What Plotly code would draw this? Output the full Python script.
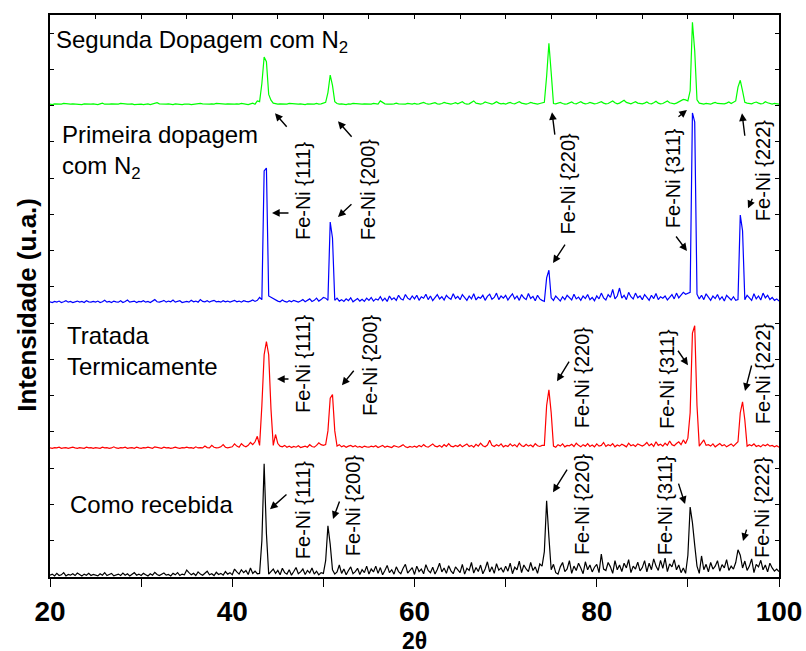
import numpy as np
import plotly.graph_objects as go

# 2-theta sampling grid (degrees)
two_theta = np.linspace(20, 100, 321)  # step 0.25 deg

# Intensities (a.u.) above each curve's own baseline
segunda_dopagem = [
    3,2,4,3,2,3,5,4,2,3,4,3,2,3,2,4,3,2,3,4,
    3,2,4,6,3,2,3,4,3,2,3,5,4,2,3,3,4,2,3,4,
    3,2,3,4,2,3,5,7,4,3,2,3,4,3,2,4,3,3,2,3,
    4,3,2,3,4,3,5,4,3,2,3,4,3,5,4,3,2,3,4,3,
    2,3,4,3,5,4,3,2,4,6,3,12,10,60,133,120,30,14,6,4,
    3,4,3,2,3,5,4,3,2,3,4,3,2,4,3,2,3,5,3,4,
    6,8,35,83,55,10,5,3,4,3,2,4,3,5,4,3,2,3,4,3,
    4,3,5,4,3,12,8,4,3,2,3,4,6,4,3,4,3,5,4,3,
    5,3,4,6,8,5,3,4,5,7,4,3,5,8,6,4,3,5,7,4,
    6,10,5,3,4,8,12,6,4,3,5,9,7,4,3,6,10,6,4,5,
    3,6,8,5,4,7,10,6,4,3,5,8,6,4,3,5,6,8,80,171,
    90,5,4,6,8,5,3,4,6,9,5,4,7,10,6,4,5,8,6,4,
    5,7,10,6,4,5,8,12,7,4,6,9,14,8,5,4,7,10,6,5,
    4,6,9,5,4,7,11,6,4,5,8,12,7,5,4,6,9,14,16,15,
    12,40,229,150,15,6,4,3,5,4,3,6,8,5,4,3,4,6,9,5,
    8,12,50,69,40,8,6,5,4,7,9,6,4,5,10,7,4,3,5,4,
    3,
]

primeira_dopagem = [
    4,2,5,3,6,2,4,7,3,5,2,4,6,3,5,2,7,4,3,5,
    3,6,2,4,8,3,5,2,6,4,3,7,2,5,9,3,4,6,2,5,
    4,7,3,5,2,6,10,4,3,5,8,3,6,4,9,3,5,7,2,4,
    5,3,8,4,6,3,10,5,4,7,3,6,8,4,5,3,7,4,6,3,
    5,8,4,6,3,7,5,4,6,9,5,8,16,10,365,373,20,16,12,8,
    6,4,9,5,3,7,4,8,5,3,6,10,4,7,12,5,8,14,6,10,
    16,14,8,224,180,8,14,6,10,5,12,7,15,4,9,13,6,11,5,14,
    8,16,6,12,9,18,7,14,5,20,10,15,8,22,12,9,24,14,10,20,
    12,22,8,18,14,25,10,20,7,16,24,12,18,9,22,15,11,26,13,19,
    10,24,15,8,20,12,26,9,17,14,22,8,19,25,11,16,28,10,20,14,
    22,9,18,26,12,20,8,24,15,10,27,13,19,7,22,12,8,5,70,91,
    15,8,20,12,6,18,10,22,14,9,25,12,17,8,20,13,24,10,16,7,
    20,12,28,15,9,24,16,38,12,20,42,14,22,10,30,18,12,28,15,20,
    10,24,16,8,22,13,27,10,18,14,20,9,16,24,12,28,15,22,30,25,
    28,30,525,500,25,12,22,10,26,15,8,20,13,24,10,18,6,22,14,9,
    18,8,10,243,200,10,22,14,8,26,12,20,9,28,15,22,10,16,8,12,
    6,
]

tratada_termicamente = [
    3,2,4,3,5,2,3,4,2,3,5,3,2,4,3,2,5,3,4,2,
    4,3,2,5,3,4,2,3,6,3,2,4,3,5,2,3,4,2,5,3,
    2,4,3,5,3,2,6,4,3,2,5,3,4,2,3,5,3,2,4,3,
    5,3,4,2,6,3,4,3,8,4,3,10,5,3,4,6,12,5,3,4,
    6,14,8,5,15,9,6,10,18,12,20,35,10,120,260,296,260,110,10,40,
    15,8,6,10,5,8,4,7,5,9,4,6,8,5,12,7,5,10,17,12,
    10,12,50,140,150,50,8,12,6,9,5,8,10,6,9,5,7,4,8,6,
    5,8,6,9,4,7,10,5,8,6,4,9,7,5,8,12,6,4,7,5,
    8,5,10,6,12,7,5,9,14,8,6,10,5,12,7,15,8,6,10,7,
    12,6,9,14,7,10,5,13,8,16,9,6,11,24,10,7,12,8,14,6,
    10,7,14,8,12,6,16,9,7,13,8,11,6,15,9,7,10,10,120,163,
    100,8,5,12,8,14,6,10,9,13,7,16,10,6,12,8,15,7,11,6,
    14,8,10,18,7,12,9,15,6,11,8,13,10,6,16,9,12,7,14,10,
    8,12,18,9,14,7,20,10,13,8,16,10,22,12,9,15,20,12,25,15,
    30,100,320,340,120,8,15,25,10,12,8,14,6,10,15,9,12,6,10,14,
    8,15,20,100,130,80,8,12,9,14,7,10,6,12,9,13,8,10,6,9,
    5,
]

como_recebida = [
    5,8,3,10,4,6,12,3,7,5,9,4,11,6,3,8,5,10,4,7,
    6,3,9,5,12,4,7,10,3,6,8,4,11,5,9,3,7,12,5,8,
    4,10,6,3,9,5,13,7,4,8,11,5,7,3,10,6,12,4,8,6,
    19,12,6,10,4,14,8,5,11,16,6,9,4,13,7,10,5,15,8,12,
    6,22,14,8,20,12,18,7,25,10,16,9,10,100,312,120,8,15,22,10,
    18,6,24,12,8,20,5,15,26,9,14,22,7,18,11,25,8,16,6,12,
    10,45,141,90,20,8,14,33,10,22,6,18,28,9,15,24,7,20,12,30,
    8,22,14,30,10,26,6,18,32,12,20,8,28,15,9,24,35,11,19,26,
    7,30,15,22,9,34,18,12,27,8,21,38,14,25,10,31,17,9,28,20,
    12,35,8,24,18,40,11,26,15,33,9,22,42,14,28,10,37,19,25,13,
    30,16,38,9,27,20,44,12,33,22,15,40,18,28,10,36,30,70,210,110,
    20,35,12,8,28,40,15,22,45,10,30,18,38,25,9,42,20,33,14,27,
    35,12,63,22,18,40,28,10,45,20,33,15,38,25,48,12,30,22,41,17,
    26,45,14,38,20,50,30,18,46,24,52,15,36,28,48,20,33,12,25,10,
    60,193,150,88,30,10,58,20,35,14,40,22,30,45,16,34,25,48,18,30,
    22,40,75,60,25,44,18,30,50,12,35,28,46,20,33,14,38,25,16,22,
    15,
]

series_names = ["Segunda Dopagem com N<sub>2</sub>", "Primeira dopagem<br>com N<sub>2</sub>",
                "Tratada<br>Termicamente", "Como recebida"]
series_offsets = [1301, 755, 353, 0]
series_colors = ["#00ff00", "#0000ff", "#ff0000", "#000000"]
series_data = [segunda_dopagem, primeira_dopagem, tratada_termicamente, como_recebida]

for s in series_data:
    assert len(s) == 321, len(s)

FONT = "Liberation Sans, Arial, sans-serif"

fig = go.Figure()
for vals, off, col in zip(series_data, series_offsets, series_colors):
    fig.add_trace(go.Scatter(x=two_theta, y=np.array(vals) + off, mode="lines",
                             line=dict(color=col, width=1.2), showlegend=False,
                             hoverinfo="skip"))

# dummy trace for top axis
fig.add_trace(go.Scatter(x=[20, 100], y=[0, 0], xaxis="x2", mode="lines",
                         line=dict(width=0), showlegend=False, hoverinfo="skip"))

annotations = []
# Sample labels: (text, x deg, y counts)
label_pos = [(20.45, 1478), (21.1, 1172), (21.7, 622), (21.95, 200)]
for txt, (lx, ly) in zip(series_names, label_pos):
    annotations.append(dict(x=lx, y=ly, xref="x", yref="y", text=txt, showarrow=False,
                            xanchor="left", yanchor="middle", align="left",
                            font=dict(family=FONT, size=24, color="black")))

# Peak labels (rotated)
peak_text = ["Fe-Ni {111}", "Fe-Ni {200}", "Fe-Ni {220}", "Fe-Ni {311}", "Fe-Ni {222}"]
peak_label_pos = [
    [(47.76, 1067), (54.9, 1067), (76.85, 1083), (88.37, 1100), (98.24, 1122)],
    [(47.76, 590), (55.12, 582), (78.38, 551), (87.71, 546), (98.24, 562)],
    [(47.76, 187), (53.25, 198), (78.38, 201), (87.49, 198), (98.13, 193)],
]
for row in peak_label_pos:
    for txt, (px, py) in zip(peak_text, row):
        annotations.append(dict(x=px, y=py, xref="x", yref="y", text=txt, showarrow=False,
                                textangle=-90, xanchor="center", yanchor="middle",
                                font=dict(family=FONT, size=20, color="black")))

# Arrows: head (deg, counts) and tail offset (px)
arrows = [
    (44.69, 1279, 13, 15), (51.6, 1257, 15, 17), (44.36, 1004, 18, 0), (51.6, 993, 15, -14),
    (75.09, 1282, 3, 24), (75.2, 866, 13, -20), (89.9, 1288, -10, 8), (89.9, 899, -12, -16),
    (95.94, 1279, 3, 24), (96.6, 1017, 5, -11),
    (44.91, 546, 13, 0), (52.04, 529, 13, -16), (75.64, 540, 13, -21), (90.01, 584, -11, -16),
    (96.27, 513, 7, -27),
    (44.14, 187, 18, -16), (51.06, 160, 7, -19), (75.2, 234, 15, -24), (89.69, 201, -7, -22),
    (96.05, 99, 4, -13),
]
for hx, hy, ax, ay in arrows:
    annotations.append(dict(x=hx, y=hy, xref="x", yref="y", text="", showarrow=True,
                            ax=ax, ay=ay, arrowhead=2, arrowsize=1.1, arrowwidth=1.4,
                            arrowcolor="black", standoff=0, startstandoff=0))

# Axis titles
annotations.append(dict(x=0.5, y=-0.113, xref="paper", yref="paper", text="2θ",
                        showarrow=False, xanchor="center", yanchor="middle",
                        font=dict(family=FONT, size=23, color="black", weight="bold")))
annotations.append(dict(x=-0.031, y=0.485, xref="paper", yref="paper",
                        text="Intensidade (u.a.)", textangle=-90,
                        showarrow=False, xanchor="center", yanchor="middle",
                        font=dict(family=FONT, size=26, color="black", weight="bold")))

fig.update_layout(
    width=806, height=651,
    margin=dict(l=50, r=27, t=15, b=74, autoexpand=False),
    paper_bgcolor="white", plot_bgcolor="white",
    annotations=annotations,
    xaxis=dict(range=[20, 100], dtick=20, tick0=20, ticks="outside", ticklen=8, tickwidth=1.2,
               tickcolor="black", showline=True, linewidth=2, linecolor="black", mirror=True,
               showgrid=False, zeroline=False, automargin=False,
               minor=dict(dtick=10, tick0=20, ticks="outside", ticklen=8, tickwidth=1.2,
                          tickcolor="black", showgrid=False),
               tickfont=dict(family=FONT, size=28, color="black", weight="bold")),
    xaxis2=dict(range=[20, 100], overlaying="x", side="top", dtick=5, tick0=20,
                ticks="inside", ticklen=4, tickwidth=1.2, tickcolor="black", automargin=False,
                showticklabels=False, showgrid=False, zeroline=False, showline=False),
    yaxis=dict(range=[0, 1550], dtick=100, tick0=0, ticks="inside", ticklen=4, tickwidth=1.2,
               tickcolor="black", showticklabels=False, showline=True, linewidth=2,
               linecolor="black", mirror="ticks", showgrid=False, zeroline=False,
               automargin=False),
)

fig.write_html("out.html")
